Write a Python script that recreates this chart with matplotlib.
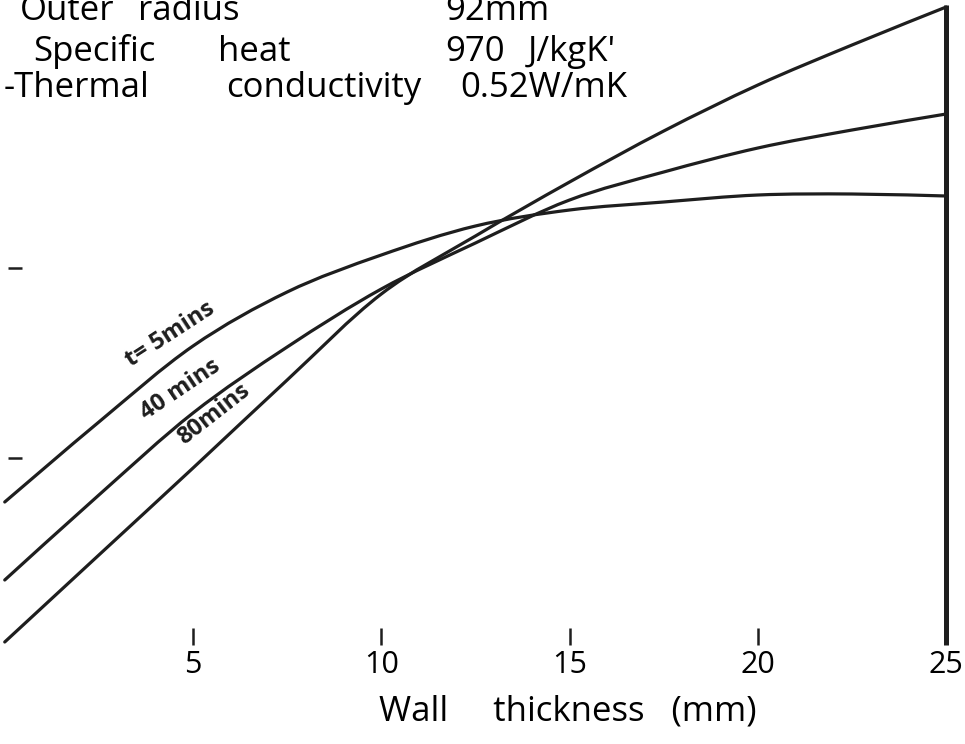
import matplotlib
matplotlib.use("Agg")
import matplotlib.pyplot as plt
from matplotlib.path import Path
from matplotlib.patches import PathPatch

# ---- data (y in arbitrary units) ----
wall_mm = [0, 2.5, 5, 7.5, 10, 12.5, 15, 17.5, 20, 22.5, 25]
t5_vals = [24.2, 32.2, 39.8, 45.2, 48.9, 51.8, 53.4, 54.2, 54.9, 55.0, 54.8]
t40_vals = [16.4, 24.9, 33.1, 39.7, 45.5, 50.1, 54.4, 57.2, 59.6, 61.4, 63.0]
t80_vals = [10.2, 18.9, 27.6, 36.4, 45.0, 50.8, 56.2, 61.3, 65.9, 69.9, 73.7]

x_ticks = [5, 10, 15, 20, 25]
x_tick_labels = ["5", "10", "15", "20", "25"]
y_marks = [47.6, 28.6]

header_words = [["Outer", "radius", "92mm"],
                ["Specific", "heat", "970", "J/kgK'"],
                ["-Thermal", "conductivity", "0.52W/mK"]]
curve_labels = ["t= 5mins", "40 mins", "80mins"]
x_label = "Wall     thickness   (mm)"

W, H = 965, 744
fig = plt.figure(figsize=(W / 100, H / 100), dpi=100)
ax = fig.add_axes([0, 0, 1, 1])
ax.set_xlim(-0.126, 25.5)
ax.set_ylim(0, 74.4)
ax.axis("off")

ink = "#1e1e1e"


def smooth_path(xs, ys):
    """Catmull-Rom curve through the points, as cubic Bezier segments."""
    verts = [(xs[0], ys[0])]
    codes = [Path.MOVETO]
    n = len(xs)
    for i in range(n - 1):
        x0, y0 = (xs[i - 1], ys[i - 1]) if i > 0 else (xs[i], ys[i])
        x1, y1 = xs[i], ys[i]
        x2, y2 = xs[i + 1], ys[i + 1]
        x3, y3 = (xs[i + 2], ys[i + 2]) if i + 2 < n else (xs[i + 1], ys[i + 1])
        c1 = (x1 + (x2 - x0) / 6, y1 + (y2 - y0) / 6)
        c2 = (x2 - (x3 - x1) / 6, y2 - (y3 - y1) / 6)
        verts += [c1, c2, (x2, y2)]
        codes += [Path.CURVE4] * 3
    return Path(verts, codes)


for vals in (t5_vals, t40_vals, t80_vals):
    ax.add_patch(PathPatch(smooth_path(wall_mm, vals), facecolor="none",
                           edgecolor=ink, lw=2.3, capstyle="round"))

# right-hand vertical line at 25 mm
ax.vlines(25, 9.9, 73.9, color=ink, lw=3.6)
# small tick marks along the bottom
ax.vlines(x_ticks[:-1], 9.9, 11.6, color=ink, lw=1.8)
# small marks on the left
ax.hlines(y_marks, 0.08, 0.46, color=ink, lw=1.8)

font = "Open Sans"
for xt, lab in zip(x_ticks, x_tick_labels):
    ax.text(xt, 7.9, lab, ha="center", va="center", fontsize=22,
            family=font, color="black")
fig.text(568 / W, 1 - 712 / H, x_label, ha="center", va="center",
         fontsize=25, family=font, color="black")

# header text (top line partly cut off, as in the scan)
word_x = [[20, 138, 445],
          [33, 218, 445, 528],
          [4, 226, 460]]
base_y = [20, 61, 97]
for xs, by, words in zip(word_x, base_y, header_words):
    for wx, wd in zip(xs, words):
        fig.text(wx / W, 1 - by / H, wd, ha="left", va="baseline",
                 fontsize=25, family=font, color="black")

# curve labels
lab_pos = [(170, 334), (180, 390), (214, 414)]
lab_rot = [33, 34, 38]
for (px, py), rot, txt in zip(lab_pos, lab_rot, curve_labels):
    fig.text(px / W, 1 - py / H, txt, ha="center", va="center", rotation=rot,
             rotation_mode="anchor", fontsize=17, family=font,
             fontweight="bold", color=ink)

fig.savefig("out.png", dpi=100)
